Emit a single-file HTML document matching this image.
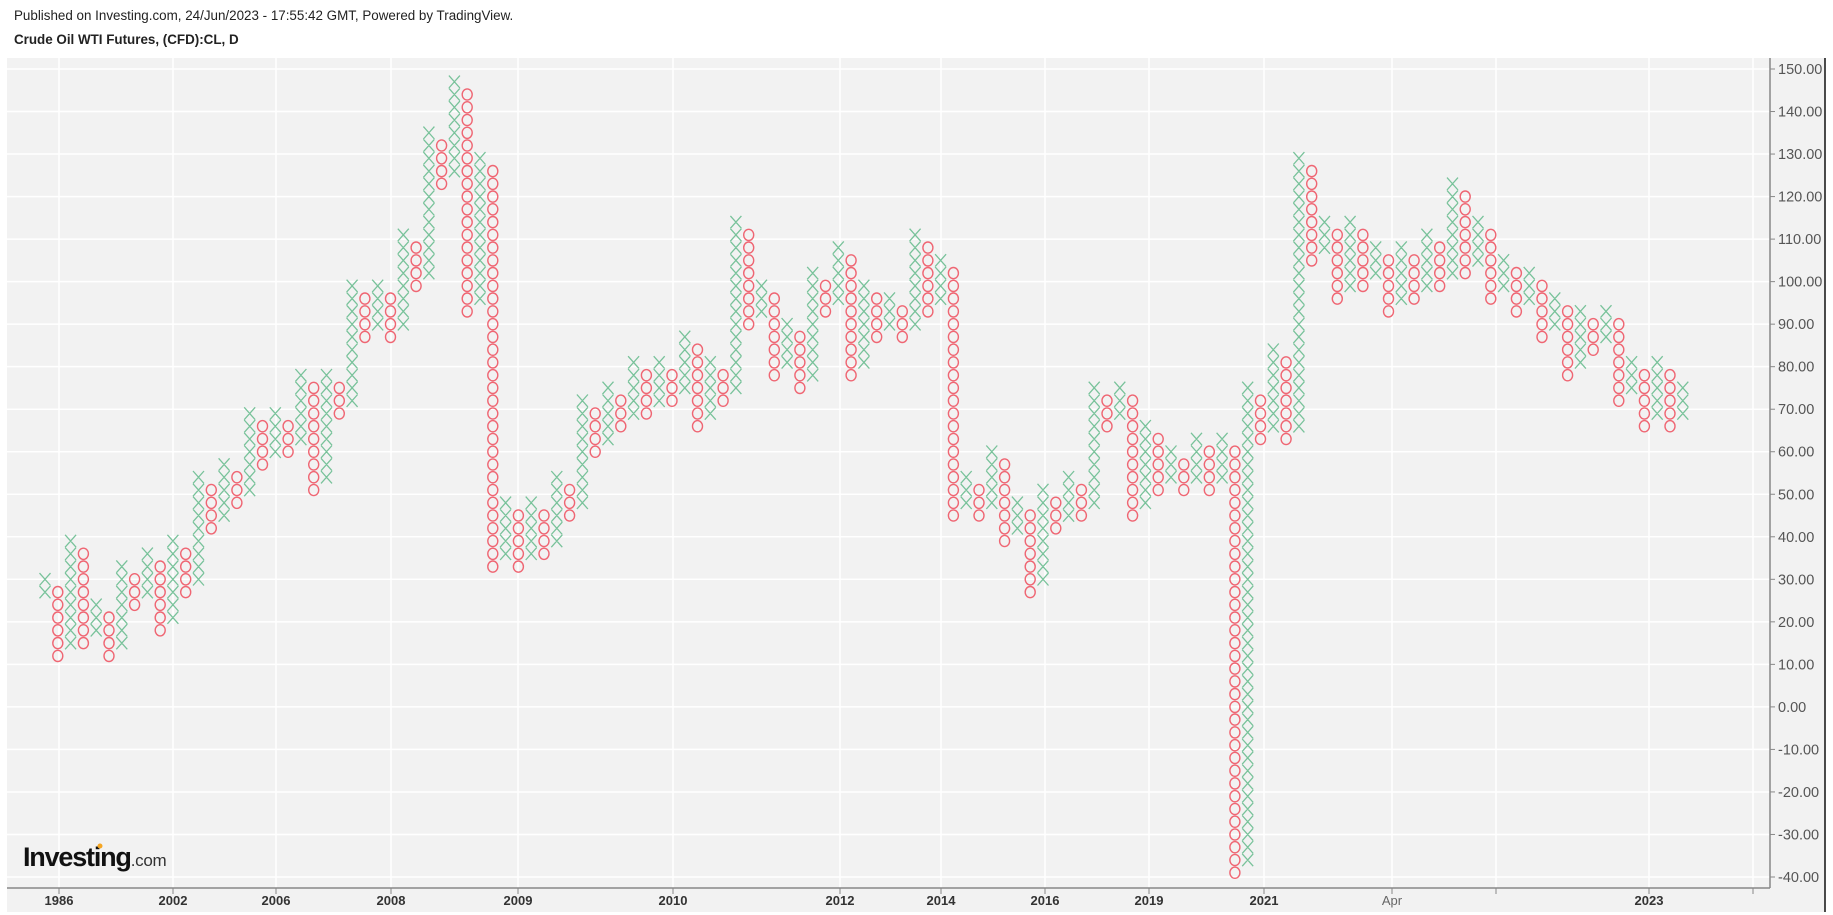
<!DOCTYPE html>
<html><head><meta charset="utf-8">
<style>
html,body{margin:0;padding:0;background:#fff;}
body{width:1833px;height:915px;overflow:hidden;position:relative;font-family:"Liberation Sans",Arial,sans-serif;}
.t1{position:absolute;left:14px;top:8px;font-size:13.4px;color:#222;}
.t2{position:absolute;left:14px;top:32px;font-size:13.4px;font-weight:bold;color:#222;}
svg{position:absolute;left:0;top:0;}
</style></head><body>
<div class="t1">Published on Investing.com, 24/Jun/2023 - 17:55:42 GMT, Powered by TradingView.</div>
<div class="t2">Crude Oil WTI Futures, (CFD):CL, D</div>
<svg id="s" width="1833" height="915" xmlns="http://www.w3.org/2000/svg">
<rect x="7" y="58" width="1818" height="854" fill="#f2f2f2"/>
<line x1="1825" y1="58" x2="1825" y2="912" stroke="#111" stroke-width="1.5"/>
<g id="grid"></g>
<g id="pf"></g>
<line x1="7" y1="888" x2="1770" y2="888" stroke="#888" stroke-width="1.5"/>
<line x1="1770" y1="58" x2="1770" y2="888" stroke="#888" stroke-width="1.5"/>
<g id="labels" font-family="Liberation Sans, Arial, sans-serif"></g>
<text x="23" y="866" font-size="27" font-weight="bold" fill="#111" letter-spacing="-1.2">Investing<tspan font-size="17" font-weight="normal" fill="#333" letter-spacing="-0.3">.com</tspan></text>
<circle cx="100" cy="846" r="2.5" fill="#f5a623"/>
</svg>
<script>
var NS="http://www.w3.org/2000/svg";
function el(p,n,a,t){var e=document.createElementNS(NS,n);for(var k in a)e.setAttribute(k,a[k]);if(t!==undefined)e.textContent=t;p.appendChild(e);return e;}
function Y(p){return 69+(150-p)*4.2526;}
var grid=document.getElementById('grid'),lab=document.getElementById('labels'),pf=document.getElementById('pf');
for(var v=150;v>=-40;v-=10){var y=Y(v);
 el(grid,'line',{x1:7,y1:y,x2:1770,y2:y,stroke:'#fff','stroke-width':1.5});
 el(lab,'line',{x1:1770,y1:y,x2:1775,y2:y,stroke:'#888','stroke-width':1});
 el(lab,'text',{x:1778,y:y+5,'font-size':14.5,fill:'#555'},v.toFixed(2));}
var xs=[[59,'1986'],[173,'2002'],[276,'2006'],[391,'2008'],[518,'2009'],[673,'2010'],[840,'2012'],[941,'2014'],[1045,'2016'],[1149,'2019'],[1264,'2021'],[1392,'Apr'],[1496,''],[1649,'2023'],[1753,'']];
xs.forEach(function(a){
 el(grid,'line',{x1:a[0],y1:58,x2:a[0],y2:888,stroke:'#fff','stroke-width':1.5});
 el(lab,'line',{x1:a[0],y1:888,x2:a[0],y2:894,stroke:'#888','stroke-width':1});
 if(a[1]) el(lab,'text',{x:a[0],y:905,'font-size':13,'font-weight':a[1]=='Apr'?'normal':'bold',fill:a[1]=='Apr'?'#666':'#333','text-anchor':'middle'},a[1]);
});
var d=[[27,30],[12,27],[15,39],[15,36],[18,24],[12,21],[15,33],[24,30],[27,36],[18,33],[21,39],[27,36],[30,54],[42,51],[45,57],[48,54],[51,69],[57,66],[60,69],[60,66],[63,78],[51,75],[54,78],[69,75],[72,99],[87,96],[90,99],[87,96],[90,111],[99,108],[102,135],[123,132],[126,147],[93,144],[96,129],[33,126],[36,48],[33,45],[36,48],[36,45],[39,54],[45,51],[48,72],[60,69],[63,75],[66,72],[69,81],[69,78],[72,81],[72,78],[75,87],[66,84],[69,81],[72,78],[75,114],[90,111],[93,99],[78,96],[81,90],[75,87],[78,102],[93,99],[96,108],[78,105],[81,99],[87,96],[90,96],[87,93],[90,111],[93,108],[96,105],[45,102],[48,54],[45,51],[48,60],[39,57],[42,48],[27,45],[30,51],[42,48],[45,54],[45,51],[48,75],[66,72],[69,75],[45,72],[48,66],[51,63],[54,60],[51,57],[54,63],[51,60],[54,63],[-39,60],[-36,75],[63,72],[66,84],[63,81],[66,129],[105,126],[108,114],[96,111],[99,114],[99,111],[102,108],[93,105],[96,108],[96,105],[99,111],[99,108],[102,123],[102,120],[105,114],[96,111],[99,105],[93,102],[96,102],[87,99],[90,96],[78,93],[81,93],[84,90],[87,93],[72,90],[75,81],[66,78],[69,81],[66,78],[69,75]];
var px=[];
d.forEach(function(c,i){var x=45+i*12.795;var isX=(i%2==0);
 for(var p=c[0];p<=c[1]+0.1;p+=3){var y=Y(p);
  if(isX){px.push('M'+(x-5.5).toFixed(1)+' '+(y-6.2).toFixed(1)+'L'+(x+5.5).toFixed(1)+' '+(y+6.2).toFixed(1)+'M'+(x+5.5).toFixed(1)+' '+(y-6.2).toFixed(1)+'L'+(x-5.5).toFixed(1)+' '+(y+6.2).toFixed(1));}
  else{el(pf,'ellipse',{cx:x.toFixed(1),cy:y.toFixed(1),rx:5,ry:5.6,fill:'none',stroke:'#ef6673','stroke-width':1.4});}
 }});
el(pf,'path',{d:px.join(''),stroke:'#78c29a','stroke-width':1.3,fill:'none'});
</script>
</body></html>
